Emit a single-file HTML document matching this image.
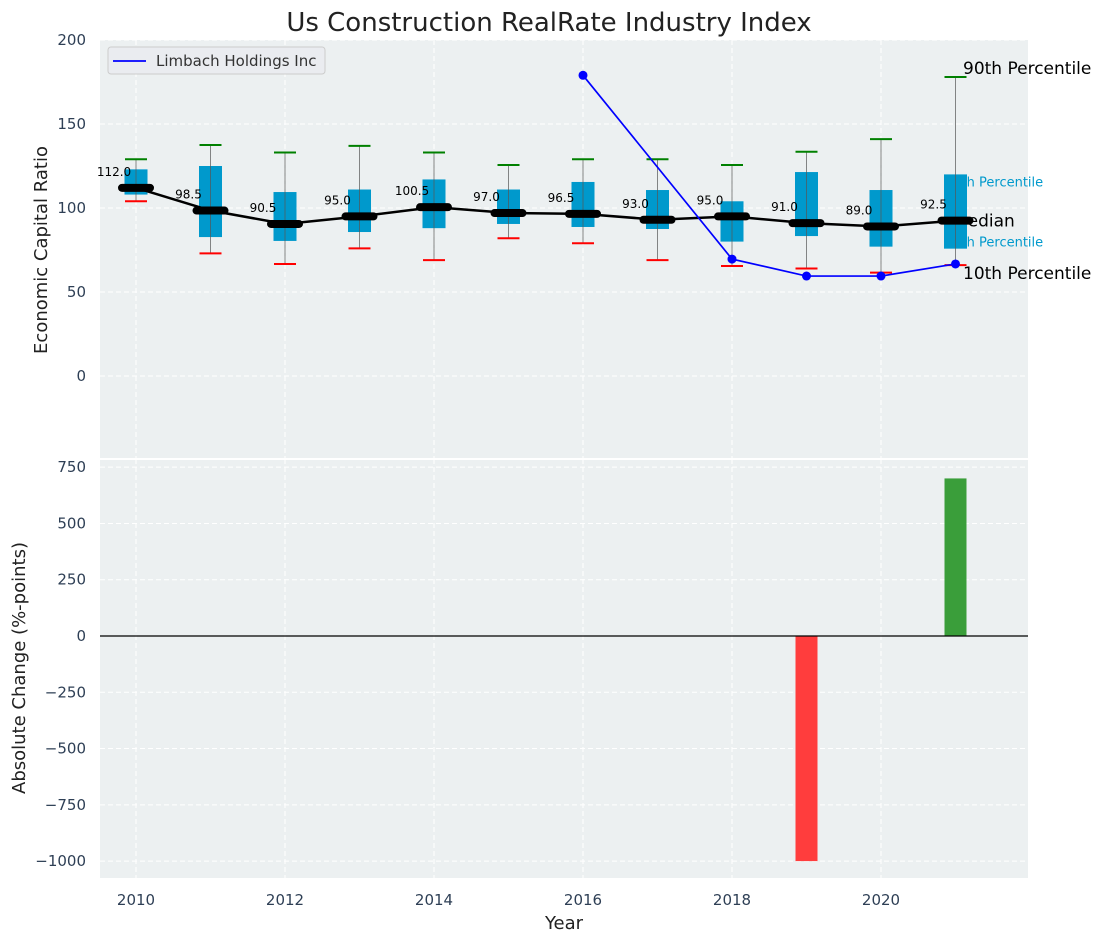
<!DOCTYPE html>
<html><head><meta charset="utf-8"><style>
body{margin:0;background:#fff;}
svg{display:block;font-family:"DejaVu Sans","Liberation Sans",sans-serif;}
</style></head><body>
<svg id="c" width="1098" height="942" xmlns="http://www.w3.org/2000/svg"></svg>
<script>
const years=[2010,2011,2012,2013,2014,2015,2016,2017,2018,2019,2020,2021];
const p90=[129,137.5,133,137,133,125.6,129,129,125.6,133.5,141,178];
const p10=[104,73,66.7,76,69,82,79,69,65.5,64,61.5,66];
const q3=[123,125,109.5,111,117,111,115.5,110.7,104,121.4,110.7,120];
const q1=[108,82.7,80.4,85.7,88,90.5,88.7,87.5,80,83.3,77,75.8];
const medians=[112,98.5,90.5,95,100.5,97,96.5,93,95,91,89,92.5];
const compYears=[2016,2018,2019,2020,2021];
const compVals=[179,69.6,59.5,59.5,66.7];
const changeYears=[2019,2021];
const changeVals=[-1000,700];
const topTicks=[0,50,100,150,200];
const botTicks=[-1000,-750,-500,-250,0,250,500,750];
const xTicks=[2010,2012,2014,2016,2018,2020];

const NS="http://www.w3.org/2000/svg";
const svg=document.getElementById('c');
function el(tag,attrs,parent,text){const e=document.createElementNS(NS,tag);for(const k in attrs)e.setAttribute(k,attrs[k]);if(text!==undefined)e.textContent=text;(parent||svg).appendChild(e);return e;}
const L=100,R=1028,T1=40,B1=458,T2=459,B2=878;
const x=v=>136+(v-2010)*74.5;
const y1=v=>376-v*1.68;
const y2=v=>636-v*0.2251;
const tc="#2e3f55";

let e;
e=el('rect',{x:L,y:T1,width:R-L,height:B1-T1,fill:"#ecf0f1"});

e=el('rect',{x:L,y:T2+1,width:R-L,height:B2-T2-1,fill:"#ecf0f1"});


topTicks.forEach(t=>{e=el('line',{x1:L,x2:R,y1:y1(t),y2:y1(t),stroke:"#fff","stroke-dasharray":"5,3","stroke-width":1});
 e=el('text',{x:86,y:y1(t)+5,"text-anchor":"end","font-size":15,fill:tc},svg,String(t));});
botTicks.forEach(t=>{e=el('line',{x1:L,x2:R,y1:y2(t),y2:y2(t),stroke:"#fff","stroke-dasharray":"5,3","stroke-width":1});
 e=el('text',{x:86,y:y2(t)+5,"text-anchor":"end","font-size":15,fill:tc},svg,String(t).replace('-','\u2212'));});
xTicks.forEach(t=>{[[T1,B1],[T2,B2]].forEach(r=>{e=el('line',{x1:x(t),x2:x(t),y1:r[0],y2:r[1],stroke:"#fff","stroke-dasharray":"5,3","stroke-width":1});});
 e=el('text',{x:x(t),y:905,"text-anchor":"middle","font-size":15,fill:tc},svg,String(t));});

const last=years.length-1;
e=el('text',{x:963,y:y1(p90[last])-3,"font-size":17,fill:"#000"},svg,"90th Percentile");
e=el('text',{x:945,y:y1(q3[last])+12,"font-size":13,fill:"#0099cc"},svg,"75th Percentile");
e=el('text',{x:945,y:y1(q1[last])-2,"font-size":13,fill:"#0099cc"},svg,"25th Percentile");
e=el('text',{x:953,y:y1(medians[last])+6,"font-size":17,fill:"#000"},svg,"Median");
e=el('text',{x:963,y:y1(p10[last])+14,"font-size":17,fill:"#000"},svg,"10th Percentile");

years.forEach((yr,i)=>{
 const cx=x(yr);
 e=el('rect',{x:cx-11.5,y:y1(q3[i]),width:23,height:y1(q1[i])-y1(q3[i]),fill:"#0099cc"});
 e=el('line',{x1:cx,x2:cx,y1:y1(p90[i]),y2:y1(p10[i]),stroke:"#555","stroke-opacity":0.7,"stroke-width":1});
 e=el('line',{x1:cx-11,x2:cx+11,y1:y1(p90[i]),y2:y1(p90[i]),stroke:"green","stroke-width":2});
 e=el('line',{x1:cx-11,x2:cx+11,y1:y1(p10[i]),y2:y1(p10[i]),stroke:"red","stroke-width":2});
});
e=el('polyline',{points:years.map((yr,i)=>x(yr)+','+y1(medians[i])).join(' '),fill:"none",stroke:"#000","stroke-width":2.5});

years.forEach((yr,i)=>{
 e=el('line',{x1:x(yr)-14,x2:x(yr)+14,y1:y1(medians[i]),y2:y1(medians[i]),stroke:"#000","stroke-width":8,"stroke-linecap":"round"});
 e=el('text',{x:x(yr)-22,y:y1(medians[i])-12,"text-anchor":"middle","font-size":12,fill:"#000"},svg,medians[i].toFixed(1));
});
e=el('polyline',{points:compYears.map((yr,i)=>x(yr)+','+y1(compVals[i])).join(' '),fill:"none",stroke:"blue","stroke-width":1.7});

compYears.forEach((yr,i)=>{e=el('circle',{cx:x(yr),cy:y1(compVals[i]),r:4.5,fill:"blue"});});

changeYears.forEach((yr,i)=>{const v=changeVals[i];
 e=el('rect',{x:x(yr)-11,y:Math.min(y2(v),y2(0)),width:22,height:Math.abs(y2(v)-y2(0)),fill:v<0?"#ff3d3d":"#3a9e3a"});});
e=el('line',{x1:L,x2:R,y1:y2(0),y2:y2(0),stroke:"#000","stroke-width":1.2});

const lg=el('g',{});
el('rect',{x:108,y:47,width:217,height:27,rx:3,fill:"#eaecf0",stroke:"#ccc"},lg);
el('line',{x1:113,x2:146,y1:61,y2:61,stroke:"blue","stroke-width":1.7},lg);
e=el('text',{x:156,y:66,"font-size":15,fill:"#333"},lg,"Limbach Holdings Inc");

e=el('text',{x:549,y:31,"text-anchor":"middle","font-size":26,fill:"#222"},svg,"Us Construction RealRate Industry Index");
e=el('text',{x:564,y:929,"text-anchor":"middle","font-size":18,fill:"#222"},svg,"Year");
e=el('text',{x:0,y:0,"text-anchor":"middle","font-size":18,fill:"#222",transform:"translate(47,250) rotate(-90)"},svg,"Economic Capital Ratio");
e=el('text',{x:0,y:0,"text-anchor":"middle","font-size":18,fill:"#222",transform:"translate(25,668) rotate(-90)"},svg,"Absolute Change (%-points)");
</script>
</body></html>
